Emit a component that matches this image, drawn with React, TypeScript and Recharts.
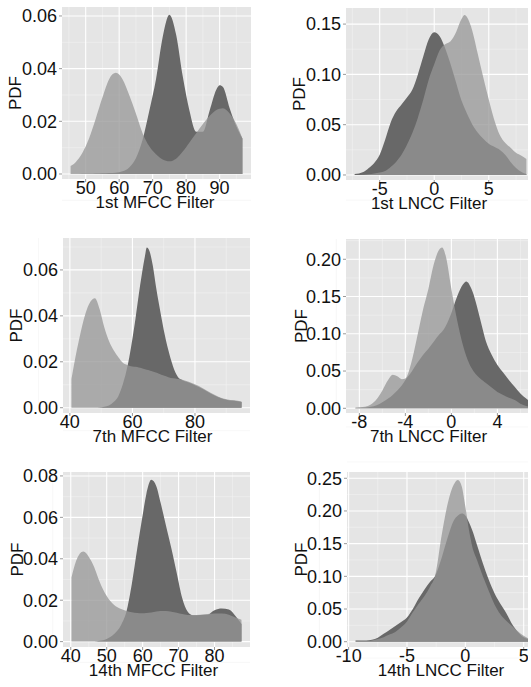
import { Area, AreaChart, CartesianGrid, XAxis, YAxis } from "recharts";

// density estimates, one x grid per panel
const MFCC1_X = [45.5, 47, 49, 51, 53, 55, 57, 59, 61, 63, 65, 67, 69, 71, 73, 75, 77, 79, 81, 83, 85, 87, 89, 90, 91, 93, 95, 96.8];
const MFCC1_DARK = [0, 0, 0.0001, 0.0001, 0.0002, 0.0003, 0.0004, 0.0005, 0.001, 0.0025, 0.006, 0.013, 0.024, 0.036, 0.052, 0.0605, 0.053, 0.037, 0.024, 0.016, 0.016, 0.024, 0.032, 0.0337, 0.033, 0.025, 0.018, 0.0135];
const MFCC1_LIGHT = [0.003, 0.0045, 0.008, 0.0135, 0.021, 0.029, 0.036, 0.0384, 0.036, 0.03, 0.023, 0.0155, 0.0105, 0.0075, 0.0055, 0.0048, 0.0058, 0.0085, 0.012, 0.0155, 0.019, 0.022, 0.0243, 0.0248, 0.025, 0.023, 0.019, 0.0135];

const LNCC1_X = [-7.3, -6.5, -6, -5.5, -5, -4.5, -4, -3.5, -3, -2.5, -2, -1.5, -1, -0.5, 0, 0.5, 1, 1.5, 2, 2.5, 2.8, 3, 3.5, 4, 4.5, 5, 5.5, 6, 6.5, 7, 7.5, 8, 8.45];
const LNCC1_DARK = [0.001, 0.003, 0.007, 0.012, 0.02, 0.035, 0.052, 0.063, 0.07, 0.077, 0.085, 0.1, 0.118, 0.135, 0.142, 0.138, 0.126, 0.11, 0.092, 0.074, 0.066, 0.061, 0.05, 0.042, 0.036, 0.031, 0.028, 0.025, 0.02, 0.013, 0.007, 0.003, 0.001];
const LNCC1_LIGHT = [0, 0.0003, 0.0008, 0.0015, 0.0025, 0.004, 0.008, 0.013, 0.02, 0.03, 0.042, 0.057, 0.075, 0.095, 0.11, 0.124, 0.13, 0.133, 0.142, 0.155, 0.159, 0.157, 0.143, 0.12, 0.097, 0.075, 0.055, 0.04, 0.032, 0.027, 0.022, 0.019, 0.016];

const MFCC7_X = [40.5, 41.5, 43, 45, 46.5, 48, 49.5, 51, 52.5, 54, 55.5, 57, 58, 59, 60, 61, 62, 63, 64, 64.6, 65.5, 66.5, 67.5, 68.5, 70, 71.5, 73, 74.5, 76, 78, 80, 82.5, 85, 87.5, 90, 92.5, 94.9];
const MFCC7_DARK = [0, 0, 0, 0, 0, 0, 0.0001, 0.0004, 0.001, 0.0025, 0.005, 0.0105, 0.0155, 0.022, 0.03, 0.039, 0.049, 0.058, 0.066, 0.0698, 0.068, 0.062, 0.053, 0.045, 0.034, 0.025, 0.018, 0.0135, 0.012, 0.011, 0.0098, 0.0082, 0.0062, 0.0046, 0.0035, 0.003, 0.0025];
const MFCC7_LIGHT = [0.0125, 0.02, 0.03, 0.041, 0.046, 0.0477, 0.043, 0.035, 0.029, 0.025, 0.022, 0.0195, 0.0188, 0.0183, 0.018, 0.0178, 0.0175, 0.0172, 0.0168, 0.0165, 0.0162, 0.0158, 0.0153, 0.0148, 0.014, 0.0133, 0.0128, 0.0125, 0.0122, 0.0113, 0.0102, 0.0085, 0.0065, 0.0048, 0.0037, 0.0032, 0.0027];

const LNCC7_X = [-8.35, -7.5, -7, -6.5, -6, -5.5, -5.1, -4.7, -4.3, -4, -3.5, -3, -2.5, -2, -1.5, -1, -0.8, -0.5, 0, 0.5, 1, 1.3, 1.75, 2.5, 3, 3.5, 4, 4.5, 5, 5.5, 6, 6.5, 7, 7.85];
const LNCC7_DARK = [0.0003, 0.001, 0.002, 0.004, 0.008, 0.013, 0.018, 0.024, 0.031, 0.038, 0.048, 0.06, 0.071, 0.08, 0.09, 0.1, 0.103, 0.11, 0.128, 0.15, 0.166, 0.17, 0.16, 0.12, 0.09, 0.072, 0.058, 0.048, 0.038, 0.029, 0.02, 0.013, 0.008, 0.003];
const LNCC7_LIGHT = [0.001, 0.002, 0.005, 0.012, 0.024, 0.038, 0.045, 0.043, 0.039, 0.04, 0.06, 0.094, 0.13, 0.16, 0.195, 0.214, 0.2157, 0.205, 0.16, 0.118, 0.085, 0.07, 0.054, 0.04, 0.034, 0.028, 0.022, 0.018, 0.014, 0.011, 0.006, 0.003, 0.0015, 0.0003];

const MFCC14_X = [40.2, 41.5, 43.5, 45, 46.5, 48, 50, 52, 54, 55.5, 57, 58.5, 60, 61, 62.4, 63.8, 65, 66.5, 68, 69.5, 71, 72.5, 74, 76, 78, 80, 82, 84, 86, 87.5];
const MFCC14_DARK = [0, 0, 0, 0, 0.0001, 0.0004, 0.0013, 0.0035, 0.008, 0.0145, 0.028, 0.045, 0.061, 0.071, 0.0781, 0.075, 0.067, 0.056, 0.045, 0.033, 0.021, 0.0145, 0.0127, 0.0128, 0.013, 0.0152, 0.016, 0.0155, 0.012, 0.0085];
const MFCC14_LIGHT = [0.031, 0.039, 0.0435, 0.041, 0.036, 0.029, 0.022, 0.0178, 0.0157, 0.0148, 0.0142, 0.0138, 0.0137, 0.0138, 0.014, 0.0145, 0.0148, 0.0148, 0.0144, 0.0139, 0.0133, 0.0129, 0.0128, 0.013, 0.0133, 0.0136, 0.0136, 0.013, 0.0115, 0.0105];

const LNCC14_X = [-9.4, -8.5, -8, -7.5, -7, -6.5, -6, -5.5, -5, -4.5, -4, -3.5, -3, -2.6, -2, -1.5, -1, -0.63, -0.3, 0, 0.3, 0.6, 1, 1.5, 2, 2.5, 3, 3.5, 4, 4.5, 5, 5.4];
const LNCC14_DARK = [0.002, 0.002, 0.003, 0.006, 0.012, 0.018, 0.024, 0.03, 0.037, 0.05, 0.066, 0.08, 0.092, 0.1, 0.13, 0.16, 0.185, 0.193, 0.196, 0.193, 0.183, 0.17, 0.148, 0.12, 0.095, 0.074, 0.058, 0.044, 0.027, 0.015, 0.007, 0.004];
const LNCC14_LIGHT = [0.002, 0.001, 0.002, 0.004, 0.007, 0.011, 0.015, 0.022, 0.031, 0.045, 0.058, 0.07, 0.085, 0.1, 0.166, 0.212, 0.24, 0.2474, 0.237, 0.207, 0.172, 0.145, 0.125, 0.1, 0.078, 0.057, 0.042, 0.032, 0.024, 0.016, 0.009, 0.005];

// axis breaks
const MFCC1_TICKS = [50, 60, 70, 80, 90];
const LNCC1_TICKS = [-5, 0, 5];
const MFCC7_TICKS = [40, 60, 80];
const LNCC7_TICKS = [-8, -4, 0, 4];
const MFCC14_TICKS = [40, 50, 60, 70, 80];
const LNCC14_TICKS = [-10, -5, 0, 5];
const PDF_TICKS_06 = [0, 0.02, 0.04, 0.06];
const PDF_TICKS_08 = [0, 0.02, 0.04, 0.06, 0.08];
const PDF_TICKS_15 = [0, 0.05, 0.1, 0.15];
const PDF_TICKS_20 = [0, 0.05, 0.1, 0.15, 0.2];
const PDF_TICKS_25 = [0, 0.05, 0.1, 0.15, 0.2, 0.25];

const PANEL_BG = "#e5e5e5";
const MINOR_GRID = "#f2f2f2";
const DARK_FILL = "#686868";
const LIGHT_FILL = "#959595";
const TEXT = "#111111";
const TICK_FONT = 18;
const TITLE_FONT = 17;
const AXIS_HEIGHT = 40;

type Panel = {
  title: string;
  xs: number[];
  dark: number[];
  light: number[];
  xTicks: number[];
  yTicks: number[];
  xDomain: [number, number];
  yDomain: [number, number];
  left: number;
  top: number;
  plotLeft: number;
  plotRight: number;
  plotTop: number;
  plotBottom: number;
  pdfX: number;
  titleDx: number;
};

function midpoints(ticks: number[]) {
  const step = ticks[1] - ticks[0];
  const out = [ticks[0] - step / 2];
  ticks.forEach((t) => out.push(t + step / 2));
  return out;
}

const PANELS: Panel[] = [
  {
    title: "1st MFCC Filter", xs: MFCC1_X, dark: MFCC1_DARK, light: MFCC1_LIGHT,
    xTicks: MFCC1_TICKS, yTicks: PDF_TICKS_06, xDomain: [42.93, 99.37], yDomain: [-0.0019, 0.0634],
    left: 0, top: 0, plotLeft: 62, plotRight: 251, plotTop: 7, plotBottom: 179, pdfX: 15, titleDx: -1.5,
  },
  {
    title: "1st LNCC Filter", xs: LNCC1_X, dark: LNCC1_DARK, light: LNCC1_LIGHT,
    xTicks: LNCC1_TICKS, yTicks: PDF_TICKS_15, xDomain: [-8.09, 9.24], yDomain: [-0.005, 0.166],
    left: 265, top: 0, plotLeft: 346, plotRight: 535, plotTop: 8, plotBottom: 180, pdfX: 33.5, titleDx: -11.5,
  },
  {
    title: "7th MFCC Filter", xs: MFCC7_X, dark: MFCC7_DARK, light: MFCC7_LIGHT,
    xTicks: MFCC7_TICKS, yTicks: PDF_TICKS_06, xDomain: [37.8, 97.6], yDomain: [-0.0023, 0.0739],
    left: 0, top: 228, plotLeft: 63, plotRight: 250, plotTop: 238, plotBottom: 413, pdfX: 16, titleDx: -4,
  },
  {
    title: "7th LNCC Filter", xs: LNCC7_X, dark: LNCC7_DARK, light: LNCC7_LIGHT,
    xTicks: LNCC7_TICKS, yTicks: PDF_TICKS_20, xDomain: [-9.16, 8.66], yDomain: [-0.0063, 0.2272],
    left: 265, top: 228, plotLeft: 346, plotRight: 551, plotTop: 239, plotBottom: 413, pdfX: 36, titleDx: -20,
  },
  {
    title: "14th MFCC Filter", xs: MFCC14_X, dark: MFCC14_DARK, light: MFCC14_LIGHT,
    xTicks: MFCC14_TICKS, yTicks: PDF_TICKS_08, xDomain: [37.84, 89.87], yDomain: [-0.0026, 0.0819],
    left: 0, top: 460, plotLeft: 63, plotRight: 250, plotTop: 472, plotBottom: 647, pdfX: 16.5, titleDx: -3,
  },
  {
    title: "14th LNCC Filter", xs: LNCC14_X, dark: LNCC14_DARK, light: LNCC14_LIGHT,
    xTicks: LNCC14_TICKS, yTicks: PDF_TICKS_25, xDomain: [-10.14, 6.14], yDomain: [-0.0081, 0.2596],
    left: 265, top: 460, plotLeft: 347, plotRight: 537, plotTop: 472, plotBottom: 647, pdfX: 35.5, titleDx: -1,
  },
];

function DensityPanel({ panel }: { panel: Panel }) {
  const data = panel.xs.map((x, i) => ({ x, dark: panel.dark[i], light: panel.light[i] }));
  const width = panel.plotRight - panel.left;
  const height = panel.plotBottom - panel.top + AXIS_HEIGHT;

  return (
    <div style={{ position: "absolute", left: panel.left, top: panel.top }}>
      <AreaChart
        width={width}
        height={height}
        data={data}
        margin={{ top: panel.plotTop - panel.top, right: 0, bottom: 0, left: 0 }}
      >
        <CartesianGrid
          fill={PANEL_BG}
          fillOpacity={1}
          stroke={MINOR_GRID}
          strokeWidth={0.6}
          verticalValues={midpoints(panel.xTicks)}
          horizontalValues={midpoints(panel.yTicks)}
        />
        <CartesianGrid
          fill="none"
          stroke="#ffffff"
          strokeWidth={1.1}
          verticalValues={panel.xTicks}
          horizontalValues={panel.yTicks}
        />
        <XAxis
          dataKey="x"
          type="number"
          domain={panel.xDomain}
          ticks={panel.xTicks}
          interval={0}
          allowDataOverflow
          height={AXIS_HEIGHT}
          axisLine={false}
          tickSize={3}
          tickMargin={-1}
          tickLine={{ stroke: "#9a9a9a" }}
          tick={{ fill: TEXT, fontSize: TICK_FONT }}
          label={{
            value: panel.title,
            position: "insideTop",
            offset: 17,
            dx: panel.titleDx,
            fill: TEXT,
            fontSize: TITLE_FONT,
          }}
        />
        <YAxis
          type="number"
          domain={panel.yDomain}
          ticks={panel.yTicks}
          interval={0}
          allowDataOverflow
          width={panel.plotLeft - panel.left}
          axisLine={false}
          tickSize={3}
          tickMargin={2}
          tickLine={{ stroke: "#9a9a9a" }}
          tick={{ fill: TEXT, fontSize: TICK_FONT }}
          tickFormatter={(v: number) => v.toFixed(2)}
          label={{
            value: "PDF",
            angle: -90,
            position: "insideLeft",
            offset: panel.pdfX,
            fill: TEXT,
            fontSize: TITLE_FONT,
            style: { textAnchor: "middle" },
          }}
        />
        <Area
          type="monotone"
          dataKey="dark"
          baseValue={0}
          stroke="none"
          fill={DARK_FILL}
          fillOpacity={1}
          isAnimationActive={false}
        />
        <Area
          type="monotone"
          dataKey="light"
          baseValue={0}
          stroke="none"
          fill={LIGHT_FILL}
          fillOpacity={0.75}
          isAnimationActive={false}
        />
      </AreaChart>
    </div>
  );
}

export default function App() {
  return (
    <div
      style={{
        position: "absolute",
        left: 0,
        top: 0,
        width: 528,
        height: 687,
        overflow: "hidden",
        background: "#ffffff",
        fontFamily: "'Liberation Sans', Arial, sans-serif",
      }}
    >
      {PANELS.map((panel) => (
        <DensityPanel key={panel.title} panel={panel} />
      ))}
    </div>
  );
}
